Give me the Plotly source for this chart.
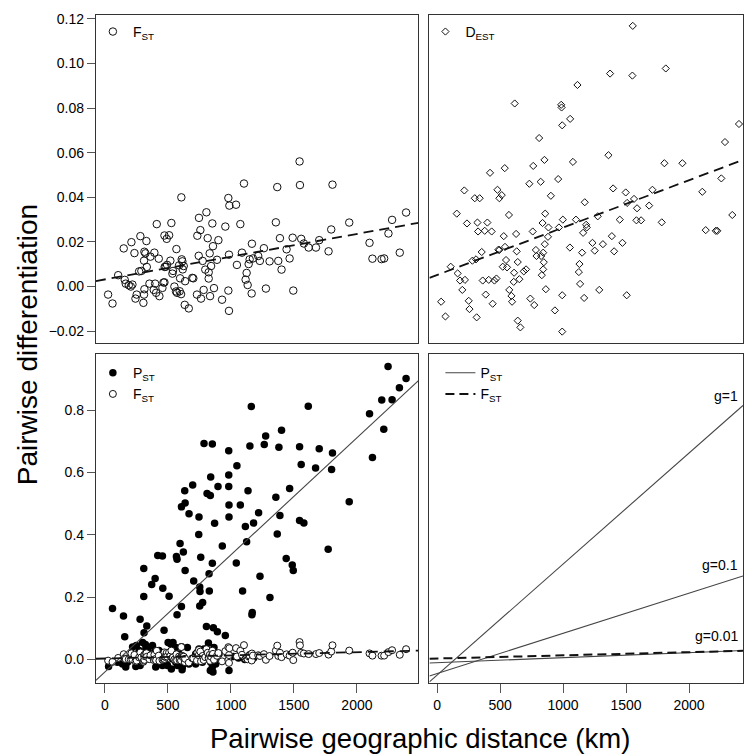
import plotly.graph_objects as go

# ---------------- data ----------------
fst_dist = [26, 61, 106, 150, 158, 166, 190, 206, 211, 219, 235, 243, 253, 272, 282, 290, 306, 311, 314, 311,
            314, 322, 330, 333, 354, 362, 388, 393, 399, 407, 412, 428, 433, 457, 465, 473, 473, 475, 483, 491,
            494, 510, 520, 528, 536, 541, 552, 565, 568, 573, 589, 594, 597, 605, 607, 610, 615, 618, 626, 634,
            637, 666, 694, 702, 731, 734, 745, 747, 758, 763, 776, 784, 797, 806, 816, 824, 824, 832, 835, 843,
            853, 858, 866, 890, 901, 930, 956, 980, 980, 985, 985, 988, 1041, 1048, 1075, 1088, 1104, 1117, 1125, 1133,
            1141, 1149, 1165, 1167, 1175, 1217, 1230, 1262, 1278, 1307, 1357, 1368, 1376, 1389, 1402, 1442, 1466, 1490, 1495, 1545,
            1548, 1558, 1579, 1617, 1675, 1701, 1775, 1796, 1806, 1939, 2100, 2123, 2195, 2216, 2250, 2279, 2340, 2390]
fst_val = [-0.0036, -0.0076, 0.0051, 0.0171, 0.0030, 0.0013, 0.0006, 0.0000, 0.0199, 0.0009, 0.0150, -0.0054, -0.0036, 0.0068, 0.0226, 0.0070, -0.0073, -0.0036, -0.0012, 0.0116,
           0.0156, 0.0149, 0.0204, 0.0088, 0.0013, 0.0134, -0.0015, 0.0152, 0.0013, -0.0028, 0.0280, 0.0125, -0.0043, -0.0006, 0.0018, 0.0229, 0.0019, 0.0088, 0.0089, 0.0214,
           0.0097, 0.0230, 0.0116, 0.0285, 0.0058, 0.0070, 0.0000, -0.0022, 0.0168, -0.0028, 0.0095, -0.0021, 0.0037, -0.0034, 0.0400, 0.0122, 0.0113, 0.0077, 0.0092, -0.0082,
           0.0024, -0.0098, 0.0039, 0.0037, -0.0036, 0.0228, 0.0138, 0.0308, 0.0253, -0.0054, 0.0115, -0.0015, 0.0076, 0.0333, 0.0217, 0.0064, 0.0036, 0.0149, -0.0043, 0.0092,
           0.0283, 0.0181, -0.0007, 0.0120, 0.0208, -0.0059, 0.0269, 0.0397, -0.0018, -0.0109, 0.0143, 0.0363, 0.0367, 0.0097, 0.0280, 0.0152, 0.0462, 0.0031, 0.0061, 0.0007,
           0.0101, 0.0122, -0.0031, 0.0192, 0.0126, 0.0137, 0.0115, 0.0172, -0.0009, 0.0113, 0.0288, 0.0446, 0.0115, 0.0217, 0.0076, 0.0167, 0.0126, 0.0219, -0.0018, 0.0561,
           0.0455, 0.0214, 0.0193, 0.0175, 0.0175, 0.0208, 0.0158, 0.0256, 0.0457, 0.0287, 0.0196, 0.0125, 0.0123, 0.0126, 0.0238, 0.0299, 0.0152, 0.0332]

dest_dist = [32, 66, 108, 156, 163, 182, 200, 216, 221, 237, 251, 257, 280, 299, 309, 314, 320, 325, 338, 354,
             362, 378, 386, 399, 410, 420, 433, 441, 455, 471, 479, 486, 494, 494, 513, 521, 529, 537, 539, 547,
             555, 570, 573, 590, 595, 608, 611, 616, 627, 632, 640, 640, 653, 661, 688, 706, 732, 740, 759, 763,
             771, 784, 789, 810, 822, 826, 831, 837, 842, 842, 847, 852, 855, 858, 863, 880, 884, 903, 935, 961,
             967, 985, 988, 993, 993, 993, 998, 1054, 1056, 1078, 1102, 1114, 1125, 1130, 1135, 1151, 1159, 1167, 1172, 1183,
             1188, 1233, 1251, 1275, 1287, 1316, 1360, 1373, 1387, 1397, 1405, 1450, 1471, 1497, 1505, 1508, 1550, 1553, 1563, 1582,
             1587, 1619, 1683, 1709, 1783, 1804, 1815, 1947, 2105, 2132, 2212, 2224, 2256, 2285, 2343, 2396]
dest_val = [-0.0068, -0.0134, 0.0089, 0.0327, 0.0059, 0.0027, -0.0015, 0.0431, 0.0030, 0.0283, -0.0064, -0.0101, 0.0116, 0.0396, 0.0122, -0.0138, 0.0287, 0.0247, 0.0396, 0.0155,
            0.0027, 0.0250, -0.0036, 0.0287, 0.0030, 0.0510, 0.0247, -0.0077, 0.0027, 0.0036, 0.0434, 0.0165, 0.0396, 0.0164, 0.0410, 0.0089, 0.0226, 0.0531, 0.0178, 0.0119,
            0.0086, 0.0321, -0.0015, -0.0042, -0.0068, 0.0021, 0.0062, 0.0821, 0.0236, 0.0158, 0.0110, -0.0153, 0.0033, -0.0183, 0.0068, 0.0077, 0.0461, -0.0054, 0.0247, 0.0541,
            -0.0083, 0.0164, 0.0137, 0.0666, 0.0470, 0.0137, 0.0051, 0.0285, 0.0152, 0.0077, 0.0109, 0.0568, 0.0190, 0.0327, -0.0012, 0.0223, 0.0265, 0.0407, -0.0107, 0.0482,
            0.0265, 0.0815, 0.0803, 0.0723, -0.0039, -0.0202, 0.0300, 0.0175, 0.0752, 0.0559, 0.0300, 0.0904, 0.0065, 0.0101, 0.0012, 0.0152, 0.0241, -0.0051, 0.0378, 0.0277,
            0.0265, 0.0196, 0.0161, 0.0315, -0.0015, 0.0190, 0.0589, 0.0955, 0.0226, 0.0440, 0.0158, 0.0300, 0.0196, 0.0422, -0.0039, 0.0375, 0.0946, 0.1169, 0.0393, 0.0297,
            0.0351, 0.0297, 0.0363, 0.0434, 0.0288, 0.0553, 0.0978, 0.0553, 0.0425, 0.0253, 0.0250, 0.0250, 0.0485, 0.0648, 0.0321, 0.0729]

pst_dist = [61, 148, 158, 280, 309, 309, 333, 311, 372, 399, 420, 457, 460, 470, 510, 568, 573, 573, 597, 608,
            623, 608, 637, 634, 637, 668, 697, 705, 745, 747, 753, 755, 761, 753, 776, 787, 806, 811, 827, 829,
            837, 840, 853, 853, 861, 871, 893, 898, 932, 956, 983, 983, 983, 985, 985, 1043, 1048, 1075, 1093, 1115,
            1125, 1136, 1151, 1162, 1170, 1167, 1180, 1220, 1231, 1265, 1276, 1310, 1357, 1368, 1381, 1389, 1402, 1439, 1466, 1487,
            1495, 1545, 1545, 1558, 1579, 1614, 1672, 1701, 1772, 1799, 1806, 1939, 2100, 2123, 2197, 2213, 2247, 2279, 2337, 2390,
            30, 100, 140, 166, 180, 206, 220, 240, 246, 250, 272, 272, 280, 285, 300, 322, 325, 338, 343, 351,
            378, 401, 404, 428, 430, 457, 457, 483, 489, 497, 502, 523, 528, 536, 541, 563, 563, 576, 589, 608,
            613, 615, 629, 655, 668, 721, 721, 747, 766, 774, 787, 800, 806, 822, 837, 840, 853, 858, 866, 880,
            880, 906, 985, 1020, 1060, 1110, 1150, 1180]
pst_val = [0.164, 0.140, 0.073, 0.129, 0.292, 0.202, 0.108, 0.086, 0.241, 0.260, 0.334, 0.332, 0.229, 0.094, 0.203, 0.331, 0.322, 0.144, 0.372, 0.170,
           0.345, 0.490, 0.502, 0.542, 0.286, 0.468, 0.560, 0.252, 0.401, 0.457, 0.233, 0.218, 0.328, 0.172, 0.183, 0.693, 0.106, 0.533, 0.275, 0.220,
           0.526, 0.586, 0.692, 0.309, 0.102, 0.437, 0.089, 0.555, 0.364, 0.077, 0.670, 0.555, 0.592, 0.496, 0.457, 0.310, 0.622, 0.496, 0.220, 0.427,
           0.378, 0.542, 0.685, 0.812, 0.151, 0.144, 0.438, 0.471, 0.267, 0.690, 0.717, 0.199, 0.521, 0.403, 0.681, 0.462, 0.736, 0.324, 0.549, 0.303,
           0.286, 0.683, 0.446, 0.626, 0.438, 0.813, 0.615, 0.676, 0.354, 0.610, 0.663, 0.506, 0.789, 0.648, 0.833, 0.739, 0.940, 0.834, 0.872, 0.902,
           -0.022, -0.009, -0.014, -0.024, -0.009, 0.007, 0.040, 0.013, -0.022, 0.045, 0.029, 0.007, -0.019, -0.009, 0.055, 0.048, 0.034, 0.018, 0.030, 0.002,
           0.045, 0.029, -0.024, -0.012, 0.029, -0.009, -0.019, 0.013, -0.016, -0.019, 0.055, 0.050, -0.030, 0.002, 0.055, 0.039, -0.009, -0.019, 0.018, 0.041,
           -0.033, -0.024, 0.002, 0.039, -0.014, 0.018, -0.014, 0.034, 0.029, -0.009, 0.034, 0.018, 0.034, 0.053, -0.035, -0.009, -0.024, -0.040, 0.039, 0.002,
           -0.014, 0.018, -0.035, 0.010, 0.005, 0.000, 0.015, 0.005]

# regression lines: (intercept, slope per km)
fst_fit = [0.0032, 1.02e-5]
dest_fit = [0.0052, 2.125e-5]
pst_fit = [-0.040, 3.757e-4]
g_labels = ["g=1", "g=0.1", "g=0.01"]
g_intercepts = [-0.050, -0.045, -0.010]
g_slopes = [3.564e-4, 1.29e-4, 1.6e-5]
g_label_y = [0.815, 0.272, 0.043]

x_ticks = [0, 500, 1000, 1500, 2000]
top_yticks = [-0.02, 0.0, 0.02, 0.04, 0.06, 0.08, 0.10, 0.12]
bot_yticks = [0.0, 0.2, 0.4, 0.6, 0.8]

# ---------------- layout geometry ----------------
W, H = 744, 756
XL = [-71, 2488]
XR = [-61, 2428]
YT = [-0.0254, 0.1218]
YB = [-0.0756, 0.979]
FONT = "Liberation Sans, Arial, sans-serif"
LINEC = "#333333"


def dx(a, b):
    return [a / W, min(b / W, 1.0)]


def dy(top, bottom):
    return [1 - bottom / H, 1 - top / H]


def fit_line(fit, xr):
    xs = [xr[0], xr[1]]
    return xs, [fit[0] + fit[1] * v for v in xs]


sub = lambda a, b: f"{a}<sub>{b}</sub>"

fig = go.Figure()

# top-left: FST
lx, ly = fit_line(fst_fit, XL)
fig.add_trace(go.Scatter(x=lx, y=ly, mode="lines", xaxis="x", yaxis="y",
                         line=dict(color="#111", width=1.8, dash="10px,6px"), showlegend=False))
fig.add_trace(go.Scatter(x=fst_dist, y=fst_val, mode="markers", xaxis="x", yaxis="y",
                         name=sub("F", "ST"), legend="legend",
                         marker=dict(symbol="circle-open", size=7.5, color="#111", line=dict(width=1, color="#111"))))

# top-right: DEST
lx, ly = fit_line(dest_fit, XR)
fig.add_trace(go.Scatter(x=lx, y=ly, mode="lines", xaxis="x2", yaxis="y2",
                         line=dict(color="#111", width=1.8, dash="10px,6px"), showlegend=False))
fig.add_trace(go.Scatter(x=dest_dist, y=dest_val, mode="markers", xaxis="x2", yaxis="y2",
                         name=sub("D", "EST"), legend="legend2",
                         marker=dict(symbol="diamond-open", size=5.5, color="#111", line=dict(width=1, color="#111"))))

# bottom-left: PST and FST
fig.add_trace(go.Scatter(x=pst_dist, y=pst_val, mode="markers", xaxis="x3", yaxis="y3",
                         name=sub("P", "ST"), legend="legend3",
                         marker=dict(symbol="circle", size=7.5, color="#000", line=dict(width=0))))
fig.add_trace(go.Scatter(x=fst_dist, y=fst_val, mode="markers", xaxis="x3", yaxis="y3",
                         name=sub("F", "ST"), legend="legend3",
                         marker=dict(symbol="circle", size=7, color="white", line=dict(width=1, color="#111"))))
lx, ly = fit_line(pst_fit, XL)
fig.add_trace(go.Scatter(x=lx, y=ly, mode="lines", xaxis="x3", yaxis="y3",
                         line=dict(color="#444", width=1.1), showlegend=False))
lx, ly = fit_line(fst_fit, XL)
fig.add_trace(go.Scatter(x=lx, y=ly, mode="lines", xaxis="x3", yaxis="y3",
                         line=dict(color="#111", width=1.8, dash="10px,6px"), showlegend=False))

# bottom-right: model lines
for i, (a, b) in enumerate(zip(g_intercepts, g_slopes)):
    lx, ly = fit_line([a, b], XR)
    fig.add_trace(go.Scatter(x=lx, y=ly, mode="lines", xaxis="x4", yaxis="y4",
                             name=sub("P", "ST"), legend="legend4", showlegend=(i == 0),
                             line=dict(color="#444", width=1.1)))
lx, ly = fit_line(fst_fit, XR)
fig.add_trace(go.Scatter(x=lx, y=ly, mode="lines", xaxis="x4", yaxis="y4",
                         name=sub("F", "ST"), legend="legend4",
                         line=dict(color="#111", width=2, dash="9px,5px")))

axis_common = dict(showgrid=False, zeroline=False, showline=True, mirror=True,
                   linecolor=LINEC, linewidth=1, tickfont=dict(family=FONT, size=14, color="#000"),
                   tickcolor="#555", tickwidth=1)

annotations = [
    dict(text="Pairwise differentiation", x=27 / W, y=1 - 342 / H, xref="paper", yref="paper",
         textangle=-90, showarrow=False, font=dict(family=FONT, size=28, color="#000"),
         xanchor="center", yanchor="middle"),
    dict(text="Pairwise geographic distance (km)", x=421 / W, y=1 - 738 / H, xref="paper", yref="paper",
         showarrow=False, font=dict(family=FONT, size=27.5, color="#000"),
         xanchor="center", yanchor="middle"),
]
for lab, yv in zip(g_labels, g_label_y):
    annotations.append(dict(text=lab, x=2405, y=yv, xref="x4", yref="y4", showarrow=False,
                            xanchor="right", yanchor="bottom", font=dict(family=FONT, size=14, color="#000")))

legend_common = dict(bgcolor="rgba(0,0,0,0)", font=dict(family=FONT, size=14, color="#000"),
                     xanchor="left", yanchor="top", tracegroupgap=0, itemsizing="trace")

fig.update_layout(
    width=W, height=H, margin=dict(l=0, r=0, t=0, b=0),
    paper_bgcolor="white", plot_bgcolor="white",
    xaxis=dict(domain=dx(96, 419), range=XL, anchor="y", showticklabels=False, ticks="", **axis_common),
    yaxis=dict(domain=dy(11, 341), range=YT, anchor="x", tickvals=top_yticks, tickformat=".2f",
               ticks="outside", ticklen=8, **axis_common),
    xaxis2=dict(domain=dx(430, 744), range=XR, anchor="y2", showticklabels=False, ticks="", **axis_common),
    yaxis2=dict(domain=dy(11, 341), range=YT, anchor="x2", showticklabels=False, ticks="", **axis_common),
    xaxis3=dict(domain=dx(96, 419), range=XL, anchor="y3", tickvals=x_ticks, ticks="outside", ticklen=9, **axis_common),
    yaxis3=dict(domain=dy(352.3, 682.7), range=YB, anchor="x3", tickvals=bot_yticks, tickformat=".1f",
                ticks="outside", ticklen=8, **axis_common),
    xaxis4=dict(domain=dx(430, 744), range=XR, anchor="y4", tickvals=x_ticks, ticks="outside", ticklen=9, **axis_common),
    yaxis4=dict(domain=dy(352.3, 682.7), range=YB, anchor="x4", showticklabels=False, ticks="", **axis_common),
    legend=dict(x=93 / W, y=1 - 12 / H, **legend_common),
    legend2=dict(x=426 / W, y=1 - 12 / H, **legend_common),
    legend3=dict(x=93 / W, y=1 - 355 / H, **legend_common),
    legend4=dict(x=441 / W, y=1 - 355 / H, **legend_common),
    annotations=annotations,
)

fig.write_html("out.html", config={"displayModeBar": False},
               post_script="document.body.style.margin='0px';document.body.style.overflow='hidden';")
